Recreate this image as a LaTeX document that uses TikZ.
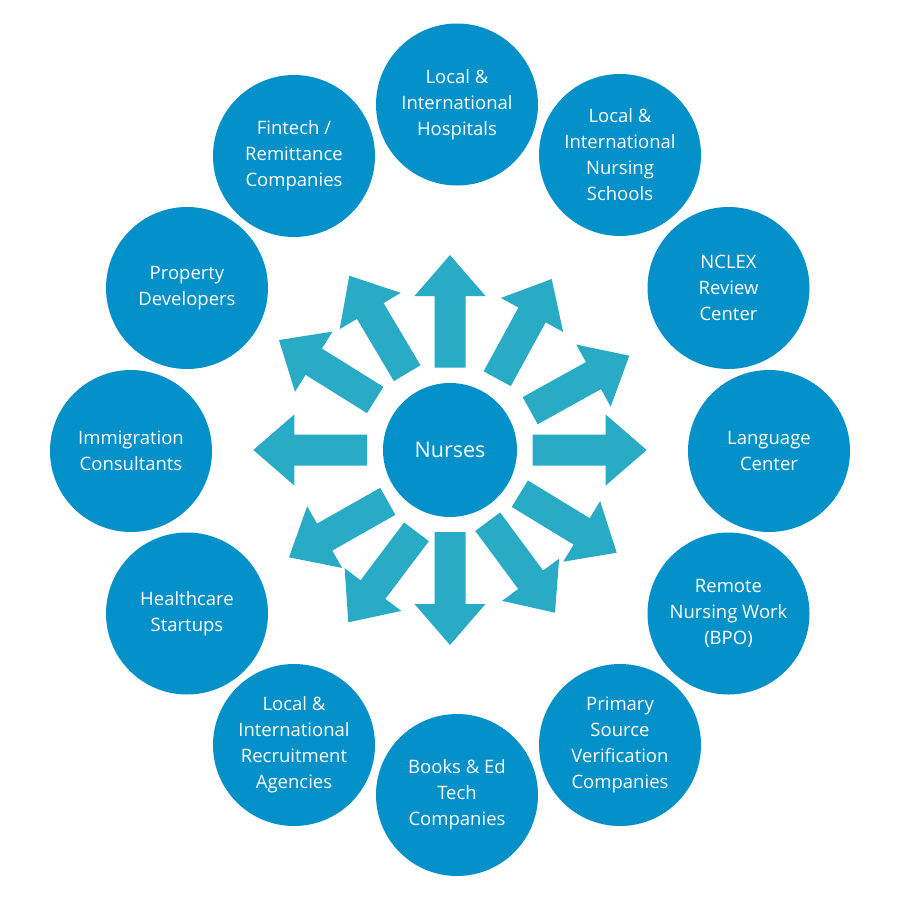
\documentclass[tikz,border=0pt]{standalone}
\usepackage{fontspec}
\setmainfont{Open Sans}
\usetikzlibrary{calc}
\definecolor{circblue}{RGB}{4,145,201}
\definecolor{arrteal}{RGB}{42,171,197}
\tikzset{
  outer/.style={circle, fill=circblue, minimum size=162pt, inner sep=0pt, align=center, text=white, font=\fontsize{18.5}{26}\selectfont},
  hub/.style={circle, fill=circblue, minimum size=134pt, inner sep=0pt, align=center, text=white, font=\fontsize{21.5}{26}\selectfont},
  bigarrow/.style={fill=arrteal, draw=none}
}
\begin{document}
\begin{tikzpicture}[x=1pt,y=-1pt]
\useasboundingbox (0,0) rectangle (900,900);
\fill[white] (0,0) rectangle (900,900);
% arrows
\foreach \sx/\sy/\tx/\ty [count=\i] in {
  532.7/450/646.7/450,
  530.2/410.7/629.3/355.7,
  497.2/378.7/551.7/279,
  450/367.7/450/255,
  407.2/373.2/349.3/275.7,
  375.2/400/279/340,
  367/450/253.3/450,
  387.8/501.3/289/557.3,
  416.5/531.8/348.3/622.3,
  450/532/450/645,
  487.7/521.7/555/612.7,
  519.8/493.7/616.7/552.7}{
  \coordinate (s\i) at (\sx,\sy);
  \coordinate (t\i) at (\tx,\ty);
  \coordinate (h\i) at ($(t\i)!41pt!(s\i)$);
  \fill[bigarrow] ($(s\i)!15.5pt!90:(t\i)$) -- ($(h\i)!15.5pt!90:(t\i)$) -- ($(h\i)!35.5pt!90:(t\i)$) -- (t\i)
     -- ($(h\i)!35.5pt!-90:(t\i)$) -- ($(h\i)!15.5pt!-90:(t\i)$) -- ($(s\i)!15.5pt!-90:(t\i)$) -- cycle;
}
\node[hub] (nurses) at (450,450) {Nurses};
\node[outer] (hosp) at (457,104.5) {Local \&\\International\\Hospitals};
\node[outer] (school) at (620,155) {Local \&\\International\\Nursing\\Schools};
\node[outer] (nclex) at (728.5,288) {NCLEX\\Review\\Center};
\node[outer] (lang) at (769,451) {Language\\Center};
\node[outer] (remote) at (728.5,613.5) {Remote\\Nursing Work\\(BPO)};
\node[outer] (psv) at (620,745) {Primary\\Source\\Verification\\Companies};
\node[outer] (books) at (457,795) {Books \& Ed\\Tech\\Companies};
\node[outer] (recruit) at (294,745) {Local \&\\International\\Recruitment\\Agencies};
\node[outer] (health) at (187,613.5) {Healthcare\\Startups};
\node[outer] (immig) at (131,451) {Immigration\\Consultants};
\node[outer] (prop) at (187,288) {Property\\Developers};
\node[outer] (fin) at (294,156) {Fintech /\\Remittance\\Companies};
\end{tikzpicture}
\end{document}
